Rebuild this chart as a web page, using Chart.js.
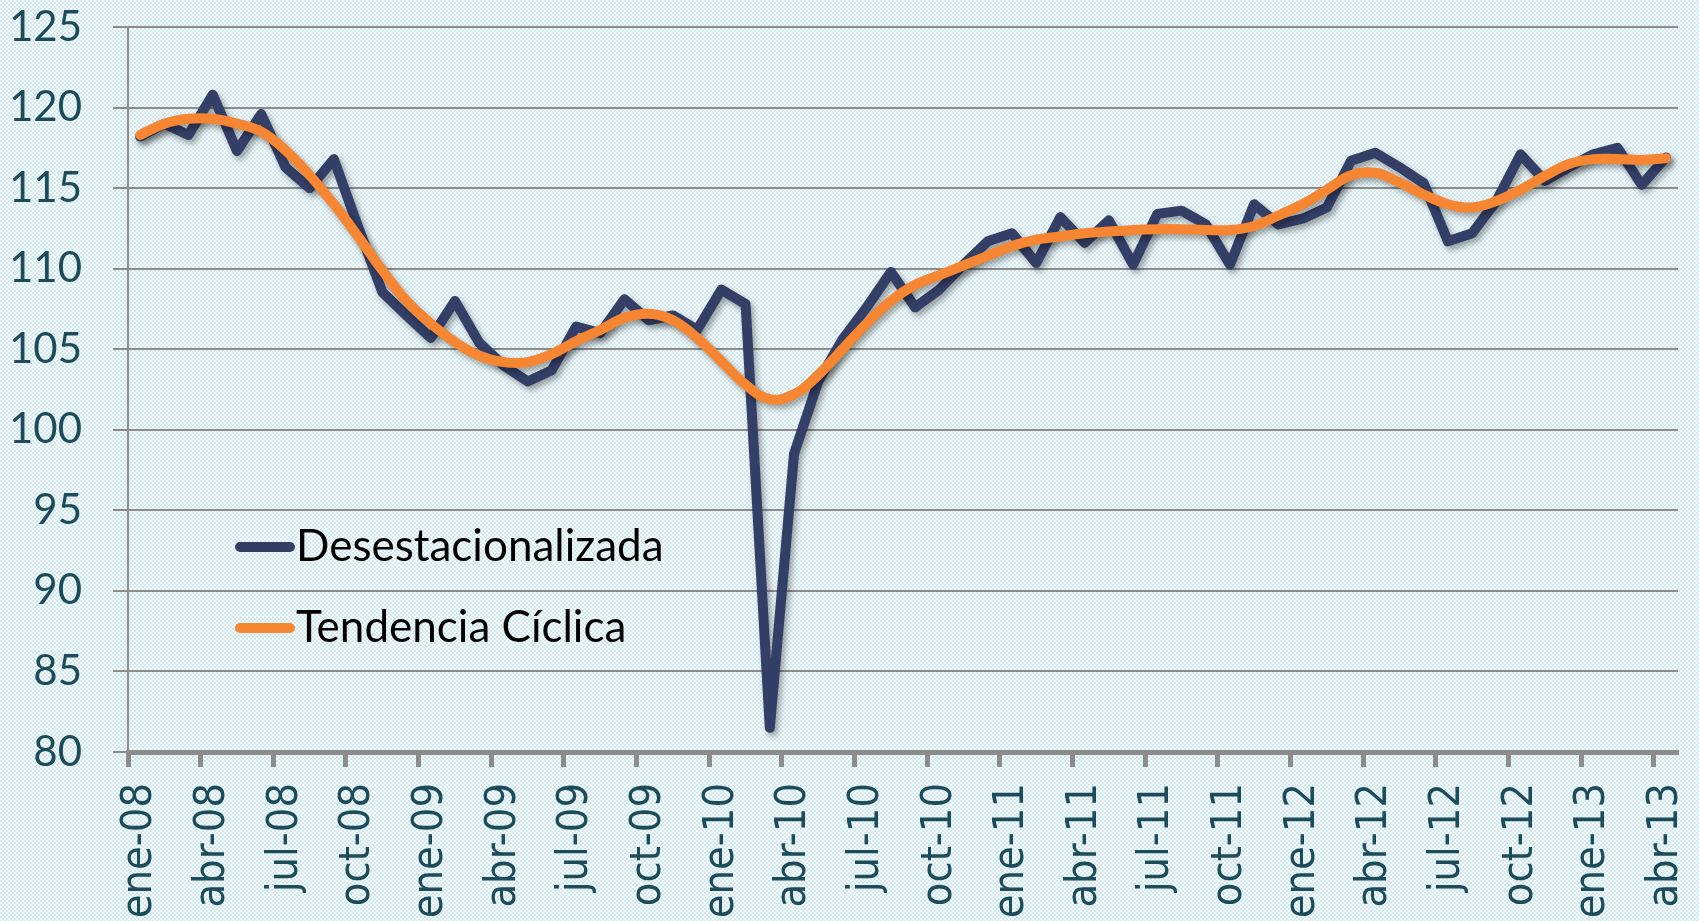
<!DOCTYPE html>
<html>
<head>
<meta charset="utf-8">
<script src="https://cdn.jsdelivr.net/npm/chart.js@4.4.0/dist/chart.umd.min.js"></script>
<style>
  html, body { margin: 0; padding: 0; background: #e4f1f5; }
  #wrap { width: 1699px; height: 921px; }
</style>
</head>
<body>
<div id="wrap"><canvas id="grafico" width="1699" height="921"></canvas></div>
<script>
// meses ene-08 .. abr-13
const meses = [
  'ene-08','feb-08','mar-08','abr-08','may-08','jun-08','jul-08','ago-08','sep-08','oct-08','nov-08','dic-08',
  'ene-09','feb-09','mar-09','abr-09','may-09','jun-09','jul-09','ago-09','sep-09','oct-09','nov-09','dic-09',
  'ene-10','feb-10','mar-10','abr-10','may-10','jun-10','jul-10','ago-10','sep-10','oct-10','nov-10','dic-10',
  'ene-11','feb-11','mar-11','abr-11','may-11','jun-11','jul-11','ago-11','sep-11','oct-11','nov-11','dic-11',
  'ene-12','feb-12','mar-12','abr-12','may-12','jun-12','jul-12','ago-12','sep-12','oct-12','nov-12','dic-12',
  'ene-13','feb-13','mar-13','abr-13'
];

const desestacionalizada = [
  118.2, 119.0, 118.3, 120.8, 117.3, 119.6, 116.3, 115.0, 116.8, 112.6, 108.55, 107.1,
  105.7, 108.0, 105.4, 104.0, 103.0, 103.7, 106.4, 106.0, 108.1, 106.8, 107.1, 106.2,
  108.7, 107.8, 81.5, 98.5, 103.0, 105.6, 107.6, 109.8, 107.6, 108.7, 110.25, 111.7,
  112.2, 110.35, 113.2, 111.6, 113.0, 110.25, 113.4, 113.6, 112.75, 110.25, 114.0, 112.75,
  113.1, 113.8, 116.7, 117.2, 116.3, 115.3, 111.7, 112.2, 114.2, 117.1, 115.45, 116.3,
  117.1, 117.5, 115.2, 116.9
];

const tendenciaCiclica = [
  118.3, 119.0, 119.3, 119.3, 119.0, 118.5, 117.35, 115.8, 114.0, 112.0, 109.9, 108.0,
  106.6, 105.45, 104.6, 104.2, 104.2, 104.7, 105.5, 106.2, 106.95, 107.2, 106.8, 105.7,
  104.25, 102.8, 101.9, 102.2, 103.4, 105.0, 106.6, 108.0, 109.0, 109.6, 110.2, 110.8,
  111.4, 111.8, 112.0, 112.2, 112.3, 112.4, 112.45, 112.45, 112.4, 112.4, 112.65, 113.3,
  114.0, 114.9, 115.8, 115.95, 115.35, 114.6, 114.0, 113.8, 114.2, 114.9, 115.75, 116.5,
  116.8, 116.8, 116.75, 116.85
];

const ejeY = { min: 80, max: 125, paso: 5 };

const colorAzul = '#333f67';
const colorNaranja = '#f68631';
const colorTexto = '#1c4b5a';
const colorGris = '#8c8c8c';

// fondo punteado
const fondo = {
  id: 'fondo',
  beforeDraw(chart) {
    const c = document.createElement('canvas');
    c.width = 4; c.height = 4;
    const p = c.getContext('2d');
    p.fillStyle = '#f5fbfc'; p.fillRect(0, 0, 4, 4);
    p.fillStyle = '#d2e9ef'; p.fillRect(0, 0, 2, 2); p.fillRect(2, 2, 2, 2);
    const ctx = chart.ctx;
    ctx.save();
    ctx.fillStyle = ctx.createPattern(c, 'repeat');
    ctx.fillRect(0, 0, chart.width, chart.height);
    ctx.restore();
  }
};

// sombra de las lineas
const sombra = {
  id: 'sombra',
  beforeDatasetDraw(chart) {
    const ctx = chart.ctx;
    ctx.save();
    ctx.shadowColor = 'rgba(0,0,0,0.35)';
    ctx.shadowBlur = 6;
    ctx.shadowOffsetX = 3;
    ctx.shadowOffsetY = 4;
  },
  afterDatasetDraw(chart) {
    chart.ctx.restore();
  }
};

// leyenda dentro del area
const leyenda = {
  id: 'leyenda',
  afterDraw(chart) {
    const ctx = chart.ctx;
    const items = [chart.data.datasets[0], chart.data.datasets[1]];
    ctx.save();
    items.forEach((ds, i) => {
      const y = 547 + i * 81;
      ctx.strokeStyle = ds.borderColor;
      ctx.lineWidth = 10;
      ctx.lineCap = 'round';
      ctx.beginPath();
      ctx.moveTo(240, y);
      ctx.lineTo(290, y);
      ctx.stroke();
      ctx.fillStyle = '#000';
      ctx.font = '44px Lato';
      ctx.textBaseline = 'middle';
      ctx.fillText(ds.label, 296, y);
    });
    ctx.restore();
  }
};

const ctx = document.getElementById('grafico').getContext('2d');
new Chart(ctx, {
  type: 'line',
  data: {
    labels: meses,
    datasets: [
      {
        label: 'Desestacionalizada',
        data: desestacionalizada,
        borderColor: colorAzul,
        borderWidth: 10,
        pointRadius: 0,
        tension: 0,
        borderCapStyle: 'round',
        borderJoinStyle: 'round',
        order: 1
      },
      {
        label: 'Tendencia Cíclica',
        data: tendenciaCiclica,
        borderColor: colorNaranja,
        borderWidth: 10,
        pointRadius: 0,
        tension: 0.4,
        borderCapStyle: 'round',
        borderJoinStyle: 'round',
        order: 0
      }
    ]
  },
  options: {
    responsive: false,
    devicePixelRatio: 1,
    animation: false,
    layout: { padding: { top: 27, right: 21, left: 0, bottom: 0 } },
    plugins: {
      legend: { display: false },
      tooltip: { enabled: false }
    },
    scales: {
      x: {
        offset: true,
        afterFit: s => { s.height = 169; s.paddingLeft = 0; s.paddingRight = 0; },
        border: { color: colorGris, width: 5 },
        grid: {
          offset: true,
          drawOnChartArea: false,
          tickLength: 15,
          tickWidth: 5,
          tickColor: c => (c.index !== undefined && c.index % 3 === 0) ? colorGris : 'rgba(0,0,0,0)'
        },
        ticks: {
          autoSkip: false,
          minRotation: 90,
          maxRotation: 90,
          padding: 16,
          color: colorTexto,
          font: { family: "'DejaVu Sans Condensed', 'DejaVu Sans'", size: 43 },
          callback: function (v, i) { return i % 3 === 0 ? meses[i] : ''; }
        }
      },
      y: {
        min: ejeY.min,
        max: ejeY.max,
        afterFit: s => { s.width = 128; s.paddingTop = 0; s.paddingBottom = 0; },
        border: { color: colorGris, width: 2 },
        grid: {
          color: colorGris,
          lineWidth: 2,
          tickLength: 15
        },
        ticks: {
          stepSize: ejeY.paso,
          padding: 31,
          color: colorTexto,
          font: { family: 'Lato', size: 42 }
        }
      }
    }
  },
  plugins: [fondo, sombra, leyenda]
});
</script>
</body>
</html>
